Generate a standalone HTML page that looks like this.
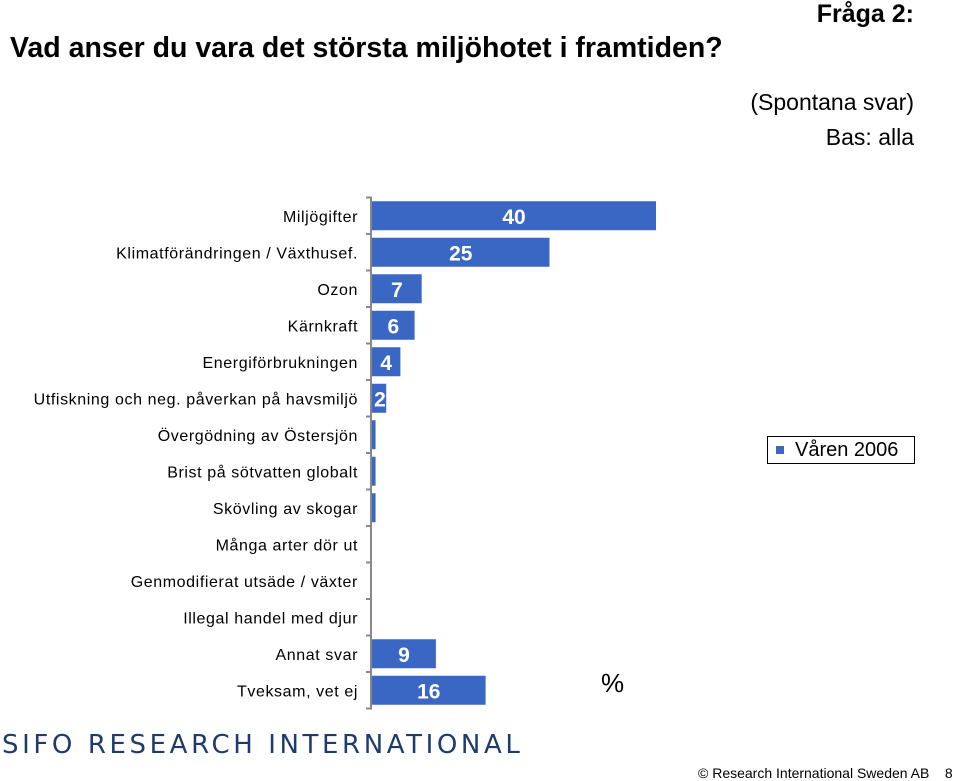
<!DOCTYPE html>
<html><head><meta charset="utf-8"><style>
body{margin:0;width:959px;height:780px;background:#fff;font-family:"Liberation Sans",sans-serif;position:relative;overflow:hidden}
.t{position:absolute;white-space:nowrap}
</style></head><body>
<div class="t" style="right:45px;top:0;font-size:25px;font-weight:bold">Fråga 2:</div>
<div class="t" style="left:10px;top:32px;font-size:28.5px;font-weight:bold">Vad anser du vara det största miljöhotet i framtiden?</div>
<div class="t" style="right:45px;top:89px;font-size:23px">(Spontana svar)</div>
<div class="t" style="right:45px;top:124px;font-size:23px">Bas: alla</div>
<svg id="chart" width="959" height="780" style="position:absolute;left:0;top:0"></svg>
<div class="t" style="left:767px;top:436px;width:148px;height:28px;border:1px solid #000;box-sizing:border-box;font-size:20px;line-height:26px;padding-left:27px">Våren 2006<span style="position:absolute;left:8px;top:9px;width:8px;height:8px;background:#3a67c4"></span></div>
<div class="t" style="left:601px;top:668px;font-size:26px">%</div>
<div class="t" style="left:2px;top:730px;font-size:26px;letter-spacing:3.6px;color:#1f3b6e;font-family:'DejaVu Sans',sans-serif">SIFO RESEARCH INTERNATIONAL</div>
<div class="t" style="left:698px;top:765px;font-size:14px">© Research International Sweden AB &nbsp;&nbsp;&nbsp;8</div>
<script>
const categories=["Miljögifter","Klimatförändringen / Växthusef.","Ozon","Kärnkraft","Energiförbrukningen","Utfiskning och neg. påverkan på  havsmiljö","Övergödning av Östersjön","Brist på sötvatten globalt","Skövling av skogar","Många arter dör ut","Genmodifierat utsäde / växter","Illegal handel med djur","Annat svar","Tveksam, vet ej"];
const values=[40,25,7,6,4,2,0.5,0.5,0.5,0,0,0,9,16];
const labels=["40","25","7","6","4","2","","","","","","","9","16"];
const NS="http://www.w3.org/2000/svg",svg=document.getElementById('chart');
const x0=372,pxPer=7.1,top0=197.5,step=36.5;
const xs=v=>x0+v*pxPer, yc=i=>top0+step*(i+0.5);
function mk(t,a){const e=document.createElementNS(NS,t);for(const k in a)e.setAttribute(k,a[k]);svg.appendChild(e);return e;}
const ax=mk('line',{x1:x0-1,x2:x0-1,y1:top0,y2:top0+step*categories.length,stroke:'#888','stroke-width':2});


for(let i=0;i<=categories.length;i++){const tk=mk('line',{x1:x0-6,x2:x0,y1:top0+step*i,y2:top0+step*i,stroke:'#888','stroke-width':2});

}
categories.forEach((c,i)=>{
const t=mk('text',{x:358,y:yc(i)+6,'text-anchor':'end','font-size':16,'letter-spacing':'0.6','font-family':'Liberation Sans, sans-serif'});t.textContent=c;


if(values[i]>0){const r=mk('rect',{x:x0,y:yc(i)-14.5,width:xs(values[i])-x0,height:29,fill:'#3a67c4'});

}
if(labels[i]){const w=xs(values[i])-x0;const l=mk('text',{x:x0+Math.max(w/2,8),y:yc(i)+8,'text-anchor':'middle','font-size':21,fill:'#fff','font-weight':'bold','font-family':'Liberation Sans, sans-serif'});l.textContent=labels[i];

}
});
</script>
</body></html>
